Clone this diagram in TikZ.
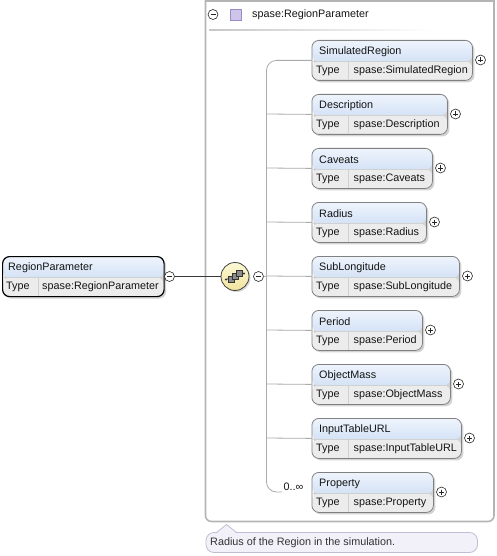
\documentclass[tikz,border=0pt]{standalone}
\usepackage{fontspec}
\setmainfont{Liberation Sans}
\usetikzlibrary{shadows,calc}
\definecolor{hdrtop}{HTML}{EEF4FC}
\definecolor{hdrbot}{HTML}{BDD3F1}
\definecolor{typefill}{HTML}{ECECEC}
\definecolor{boxborder}{HTML}{808080}
\definecolor{connc}{HTML}{ABABAB}
\definecolor{framec}{HTML}{B4B4B4}
\definecolor{tipfill}{HTML}{F2F0F9}
\definecolor{tipborder}{HTML}{C2BDD6}
\definecolor{sqfill}{HTML}{CFC5EA}
\definecolor{sqborder}{HTML}{9A8CC8}
\definecolor{seqtop}{HTML}{FDF9D6}
\definecolor{seqbot}{HTML}{F0E39C}
\begin{document}
\begin{tikzpicture}[x=1pt,y=-1pt,
  every node/.style={font=\fontsize{10.8}{12}\selectfont, inner sep=0pt},
  xsdbox/.style={draw=boxborder, line width=0.8pt, rounded corners=7pt,
    minimum height=40pt, anchor=north west,
    drop shadow={shadow xshift=2pt, shadow yshift=-2pt, opacity=0.35},
    path picture={
      \shade[top color=hdrtop, bottom color=hdrbot]
        (path picture bounding box.north west) rectangle ([yshift=-21pt]path picture bounding box.north east);
      \fill[typefill] ([yshift=-21pt]path picture bounding box.north west) rectangle (path picture bounding box.south east);
    }},
  conn/.style={draw=connc, line width=0.8pt},
  divline/.style={draw=black!18, line width=0.6pt},
  pmcircle/.style={circle, draw=black!85, fill=white, line width=0.6pt, minimum size=10pt},
  lbl/.style={anchor=west, text=black!92},
]
\useasboundingbox (0,0) rectangle (496,556);

% outer frame
\draw[framec, line width=1.6pt, rounded corners=6pt] (205.5,-4) -- (205.5,521.5) -- (494,521.5) -- (494,-4);
\draw[framec, line width=1.6pt] (205.5,0.8) -- (494,0.8);

% header of the type frame
\node[pmcircle] (hm) at (213,14.5) {};
\draw[black!85, line width=0.7pt] ($(hm.center)+(-2.5,0)$) -- ($(hm.center)+(2.5,0)$);
\node[draw=sqborder, fill=sqfill, line width=0.7pt, minimum size=11pt, anchor=center] (sq) at (236,14.5) {};
\node[lbl] (htitle) at (252,14.5) {spase:RegionParameter};
\shade[left color=black!22, right color=white] (209,29.3) rectangle (432,31);

% parent element
\node[xsdbox, draw=black, line width=1.2pt, minimum width=161.5pt] (par) at (2,256) {};
\draw[divline] (2.6,277) -- (163,277);
\draw[divline] (38,277) -- (38,295.5);
\node[lbl] (parn) at (8,267.5) {RegionParameter};
\node[lbl] (part) at (6,287) {Type};
\node[lbl] (partv) at (42,287) {spase:RegionParameter};
\node[pmcircle] (pm) at (169.5,276.5) {};
\draw[black!85, line width=0.7pt] ($(pm.center)+(-2.5,0)$) -- ($(pm.center)+(2.5,0)$);

% sequence compositor
\node[circle, draw=black!75, line width=0.8pt, top color=seqtop, bottom color=seqbot,
  minimum size=28pt, drop shadow={shadow xshift=1.5pt, shadow yshift=-1.5pt, opacity=0.3}] (seq) at (235,276.5) {};
\draw[line width=1.8pt, black!78] (pm.east) -- (seq.west);
\draw[black!80, line width=0.7pt] ($(seq.center)+(-9,3)$) -- ($(seq.center)+(9,-3)$);
\fill[black!80] ($(seq.center)+(-9,3)$) circle (1.1pt);
\fill[black!80] ($(seq.center)+(9,-3)$) circle (1.1pt);
\foreach \dx/\dy in {-4/3, 0/0, 4/-3} {
  \draw[black!80, fill=black!45, line width=0.5pt] ($(seq.center)+(\dx-3,\dy-3)$) rectangle ($(seq.center)+(\dx+3,\dy+3)$);
}
\node[pmcircle] (seqm) at (258.5,276.5) {};
\draw[black!85, line width=0.7pt] ($(seqm.center)+(-2.5,0)$) -- ($(seqm.center)+(2.5,0)$);

% children
\foreach \i/\nm/\r in {0/SimulatedRegion/472, 1/Description/447, 2/Caveats/432,
   3/Radius/426, 4/SubLongitude/459, 5/Period/422, 6/ObjectMass/450,
   7/InputTableURL/461, 8/Property/433} {
  \pgfmathsetmacro{\T}{40+54*\i}
  \pgfmathsetmacro{\W}{\r-311.5}
  \node[xsdbox, minimum width=\W pt] (box\i) at (311.5,\T) {};
  \draw[divline] (312.2,\T+21) -- (\r-0.7,\T+21);
  \draw[divline] (348,\T+21) -- (348,\T+39.5);
  \node[lbl] (nm\i) at (319,\T+11.5) {\nm};
  \node[lbl] (ty\i) at (316,\T+31) {Type};
  \node[lbl] (tv\i) at (353.5,\T+31) {spase:\nm};
  \node[pmcircle] (p\i) at (\r+8.5,\T+20) {};
  \draw[black!85, line width=0.7pt] ($(p\i.center)+(-2.5,0)$) -- ($(p\i.center)+(2.5,0)$);
  \draw[black!85, line width=0.7pt] ($(p\i.center)+(0,-2.5)$) -- ($(p\i.center)+(0,2.5)$);
}

% connectors inside the sequence
\coordinate (occend) at (282,492);
\draw[conn, rounded corners=10pt] (box0.west) -| (266.5,492) -- (occend);
\foreach \i in {1,...,7} {
  \pgfmathsetmacro{\M}{60+54*\i}
  \coordinate (v\i) at (266.5,\M);
  \draw[conn] (v\i) -- (box\i.west);
}
\draw[conn] (seqm.east) -- (v4);
\node[lbl] (occ) at (283.5,487) {0..∞};

% tooltip
\draw[tipborder, fill=tipfill, line width=0.8pt, rounded corners=8pt] (206,532.5) rectangle (477.5,552.5);
\fill[tipfill] (216.5,533.4) -- (226.5,524.5) -- (236.5,533.4) -- cycle;
\draw[tipborder, line width=0.8pt] (216.5,532.5) -- (226.5,524.5) -- (236.5,532.5);
\node[lbl, text=black!80] (tip) at (210,542.5) {Radius of the Region in the simulation.};
\end{tikzpicture}
\end{document}
